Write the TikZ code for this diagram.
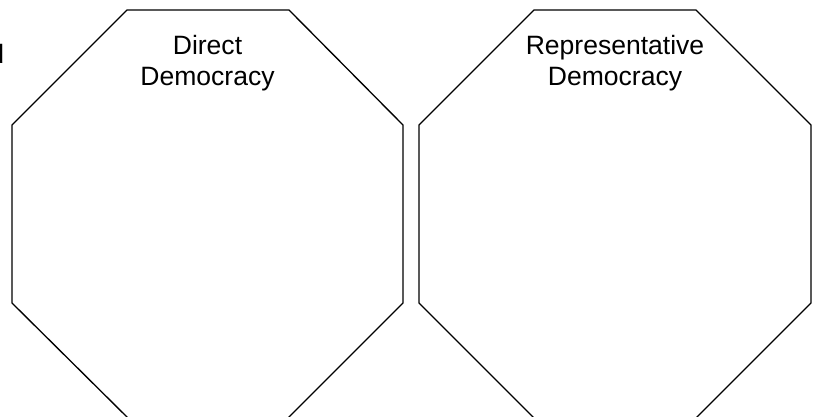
\documentclass[tikz,border=0pt]{standalone}
\usepackage{fontspec}
\setmainfont{Liberation Sans}
\tikzset{
  octa/.style={draw=black, line width=1pt, line join=miter},
  title/.style={align=center, inner sep=0pt, anchor=base, font=\fontsize{19.9}{23.25}\selectfont},
}
\begin{document}
\begin{tikzpicture}[x=0.75pt, y=-0.75pt]
\clip (0,0) rectangle (817,417);
\fill[white] (0,0) rectangle (817,417);
% left octagon
\draw[octa] (127,10) -- (289,10) -- (403,125) -- (403,303) -- (287,419)
  -- (129,419) -- (12,303) -- (12,125) -- cycle;
% right octagon
\draw[octa] (534,10) -- (696,10) -- (811,125) -- (811,303) -- (695,419)
  -- (535,419) -- (419,303) -- (419,125) -- cycle;
\node[title] (direct) at (207.5,86) {Direct\\Democracy};
\node[title] (repr) at (615,86) {Representative\\Democracy};
\node[anchor=base west, inner sep=0pt, font=\fontsize{19.9}{23.25}\selectfont] (frag) at (-11,64) {d};
\end{tikzpicture}
\end{document}
